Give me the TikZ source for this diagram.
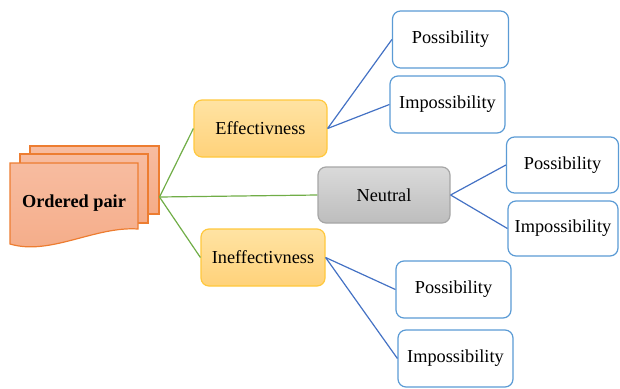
\documentclass[tikz,border=0pt]{standalone}
\usepackage{fontspec}
\setmainfont{Liberation Serif}
\newfontfamily\tnr{Liberation Serif}
\definecolor{docfill}{HTML}{F5AC88}
\definecolor{doctop}{HTML}{F7BCA0}
\definecolor{docline}{HTML}{ED7D31}
\definecolor{efftop}{HTML}{FFE3A3}
\definecolor{effbot}{HTML}{FFD27A}
\definecolor{effline}{HTML}{FFC83D}
\definecolor{neutop}{HTML}{DADADA}
\definecolor{neubot}{HTML}{BDBDBD}
\definecolor{neuline}{HTML}{A6A6A6}
\definecolor{leafline}{HTML}{5B9BD5}
\definecolor{blueconn}{HTML}{4472C4}
\definecolor{greenconn}{HTML}{70AD47}
\tikzset{
  txt/.style={font=\tnr\fontsize{18.3}{22}\selectfont, inner sep=0pt},
  mid/.style={txt, draw, rounded corners=8pt, line width=1.2pt},
  effbox/.style={mid, draw=effline, top color=efftop, bottom color=effbot},
  neubox/.style={mid, draw=neuline, top color=neutop, bottom color=neubot},
  leaf/.style={mid, draw=leafline, fill=white},
  page/.style={draw=docline, line width=1.2pt, top color=doctop, bottom color=docfill},
  gconn/.style={draw=greenconn, line width=1.2pt},
  bconn/.style={draw=blueconn, line width=1.2pt},
}
\begin{document}
\begin{tikzpicture}[x=1pt,y=-1pt]
\useasboundingbox (0,0) rectangle (620,388);
% ordered pair (multi-document)
\path[page] (30,146) rectangle (159,214);
\path[page] (20,154) rectangle (148,223);
\path[page] (10,163) -- (138,163) -- (138,229) .. controls (95,226) and (50,256) .. (10,244) -- cycle;
\node[txt, font=\tnr\fontsize{18.3}{22}\selectfont\bfseries] (op) at (74,203) {Ordered pair};
\coordinate (hub) at (159.5,197);
% middle level
\node[effbox, minimum width=133pt, minimum height=57pt] (eff) at (260.5,128.5) {Effectivness};
\node[neubox, minimum width=132pt, minimum height=56pt] (neu) at (384,195) {Neutral};
\node[effbox, minimum width=124pt, minimum height=57pt] (ineff) at (263,257.5) {Ineffectivness};
% leaves
\node[leaf, minimum width=116pt, minimum height=57pt] (p1) at (450.5,39.5) {Possibility};
\node[leaf, minimum width=115pt, minimum height=57pt] (i1) at (447.5,104.5) {Impossibility};
\node[leaf, minimum width=112pt, minimum height=56pt] (p2) at (562.5,165) {Possibility};
\node[leaf, minimum width=110pt, minimum height=55pt] (i2) at (563,228.5) {Impossibility};
\node[leaf, minimum width=115pt, minimum height=57pt] (p3) at (453.5,289.5) {Possibility};
\node[leaf, minimum width=115pt, minimum height=57pt] (i3) at (455.5,358.5) {Impossibility};
% connectors
\draw[gconn] (hub) -- (eff.west);
\draw[gconn] (hub) -- (neu.west);
\draw[gconn] (hub) -- (ineff.west);
\draw[bconn] (eff.east) -- (p1.west);
\draw[bconn] (eff.east) -- (i1.west);
\draw[bconn] (neu.east) -- (p2.west);
\draw[bconn] (neu.east) -- (i2.west);
\draw[bconn] (ineff.east) -- (p3.west);
\draw[bconn] (ineff.east) -- (i3.west);
\end{tikzpicture}
\end{document}
